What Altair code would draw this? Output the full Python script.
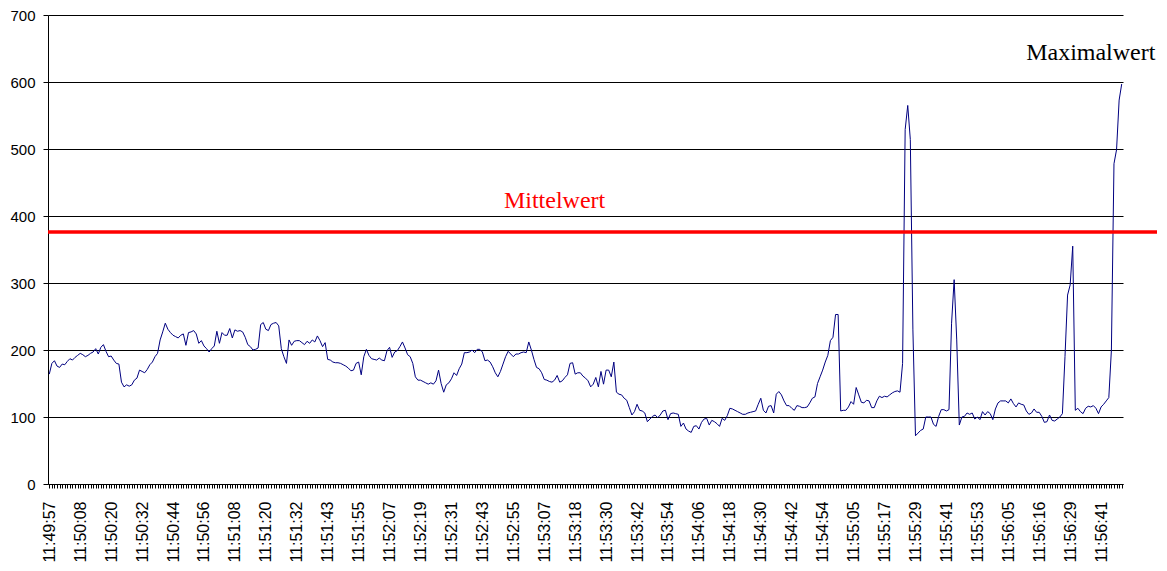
import altair as alt
import pandas as pd

# x-axis tick labels (one every 12 samples)
tick_labels = [
    "11:49:57", "11:50:08", "11:50:20", "11:50:32", "11:50:44", "11:50:56",
    "11:51:08", "11:51:20", "11:51:32", "11:51:43", "11:51:55", "11:52:07",
    "11:52:19", "11:52:31", "11:52:43", "11:52:55", "11:53:07", "11:53:18",
    "11:53:30", "11:53:42", "11:53:54", "11:54:06", "11:54:18", "11:54:30",
    "11:54:42", "11:54:54", "11:55:05", "11:55:17", "11:55:29", "11:55:41",
    "11:55:53", "11:56:05", "11:56:16", "11:56:29", "11:56:41",
]

# measured values, one per sample
values_a = [
    164, 180, 184, 176, 174, 179, 178, 183, 187, 185,
    189, 192, 195, 193, 190, 192, 195, 197, 202, 194, 204,
    208, 198, 190, 191, 185, 180, 179, 152, 145, 148,
    146, 148, 155, 158, 170, 168, 166, 171, 178, 182,
    190, 195, 215, 227, 240, 231, 226, 222, 220, 218, 222,
    224, 207, 226, 227, 229, 224, 210, 214, 206, 202,
    197, 202, 206, 228, 210, 226, 222, 222, 232, 218,
    230, 228, 229, 227, 219, 208, 205, 200, 201, 203, 238,
    241, 231, 229, 238, 240, 241, 236, 202, 190, 180,
    215, 207, 213, 214, 214, 211, 208, 213, 210, 215,
]
values_b = [
    212, 221, 214, 205, 211, 186, 185, 182, 181, 181,
    180, 178, 176, 173, 169, 170, 180, 182, 163, 190, 201,
    192, 187, 186, 185, 188, 185, 184, 199, 204, 189,
    197, 199, 205, 212, 203, 193, 190, 180, 160, 155,
    155, 153, 151, 149, 151, 149, 154, 170, 150, 137, 148,
    151, 157, 166, 162, 172, 179, 196, 196, 197, 200,
    196, 201, 201, 197, 184, 185, 182, 175, 166, 160,
    168, 179, 190, 198, 194, 190, 194, 194, 196, 197, 196,
    212, 200, 186, 174, 172, 166, 156, 155, 153, 152,
    155, 162, 152, 154, 159, 163, 180, 181, 164, 166,
]
values_c = [
    166, 161, 158, 154, 145, 149, 159, 145, 168, 149, 170,
    170, 160, 182, 137, 134, 133, 128, 125, 114, 103,
    108, 119, 110, 109, 106, 93, 97, 101, 103, 99,
    103, 109, 110, 96, 105, 106, 105, 104, 86, 91, 82,
    79, 77, 86, 87, 82, 92, 97, 98, 88, 95,
    93, 90, 86, 98, 95, 102, 113, 112, 110, 108,
    106, 104, 104, 106, 107, 108, 109, 119, 128, 110, 106,
    116, 117, 106, 134, 138, 133, 124, 117, 117, 113,
    110, 117, 116, 114, 114, 115, 121, 128, 130, 150,
    160, 170, 182, 192, 214, 219, 253, 253, 109, 110, 110,
]
values_d = [
    115, 123, 119, 144, 133, 122, 121, 125, 124, 114,
    114, 124, 131, 129, 131, 130, 133, 136, 138, 139,
    137, 180, 529, 565, 514, 230, 72, 76, 80, 82,
    100, 100, 100, 89, 86, 101, 111, 111, 109, 111, 240,
    305, 215, 88, 100, 101, 106, 104, 106, 97, 100,
    96, 108, 103, 108, 105, 96, 112, 121, 124, 124, 124,
    121, 127, 120, 115, 121, 119, 118, 109, 104, 106,
    112, 107, 107, 101, 92, 93, 103, 95, 94, 97,
    100, 105, 190, 282, 297, 355, 110, 113, 108, 105,
    113, 116, 115, 117, 113, 105, 115, 119, 124, 129, 200,
    478, 499, 573, 597,
]
values = values_a + values_b + values_c + values_d

mean_value = 376
mean_text = "Mittelwert"
max_text = "Maximalwert"
mean_text_pos = [196, 412]   # sample index, value
max_text_pos = [404, 633]

y_ticks = [0, 100, 200, 300, 400, 500, 600, 700]
label_step = 12

n = len(values)
df = pd.DataFrame({"idx": list(range(n)), "v": values})

x_scale = alt.Scale(domain=[-0.5, n - 0.5], nice=False, zero=False)
y_scale = alt.Scale(domain=[0, 700], nice=False)

arr = "[" + ",".join("'" + t + "'" for t in tick_labels) + "]"
label_expr = (
    f"(datum.value % {label_step} == 0 && datum.value / {label_step} < {len(tick_labels)}) ? "
    f"{arr}[datum.value / {label_step}] : ''"
)

x_axis = alt.Axis(
    values=list(range(n)), tickCount=n, labelExpr=label_expr, labelAngle=270,
    title=None, grid=False, tickSize=4, tickColor="black", tickWidth=1,
    domainColor="black", domainWidth=1,
    labelFont="Liberation Sans", labelFontSize=16, labelColor="black",
    labelPadding=13, labelOverlap=False, labelFlush=False, labelBound=False,
)
y_axis = alt.Axis(
    values=y_ticks, title=None, grid=True, gridColor="black", gridWidth=1,
    tickSize=5, tickColor="black", domainColor="black", domainWidth=1,
    labelFont="Liberation Sans", labelFontSize=15, labelColor="black",
    labelPadding=8,
)

line = alt.Chart(df).mark_line(color="#000080", strokeWidth=1).encode(
    x=alt.X("idx:Q", scale=x_scale, axis=x_axis),
    y=alt.Y("v:Q", scale=y_scale, axis=y_axis),
)

mean_df = pd.DataFrame({"m": [mean_value]})
mean_rule = alt.Chart(mean_df).mark_rule(color="#ff0000", strokeWidth=3.5).encode(
    y=alt.Y("m:Q", scale=y_scale),
    x=alt.value(0),
    x2=alt.value(1109),
)

txt_df = pd.DataFrame({
    "idx": [mean_text_pos[0], max_text_pos[0]],
    "v": [mean_text_pos[1], max_text_pos[1]],
    "label": [mean_text, max_text],
    "col": ["#ff0000", "#000000"],
})
texts = alt.Chart(txt_df).mark_text(
    font="Liberation Serif", fontSize=24, align="center", baseline="alphabetic"
).encode(
    x=alt.X("idx:Q", scale=x_scale),
    y=alt.Y("v:Q", scale=y_scale),
    text="label:N",
    color=alt.Color("col:N", scale=None),
)

chart = (line + mean_rule + texts).properties(
    width=1075, height=469,
    autosize="none",
    padding={"left": 40, "top": 7, "right": 36, "bottom": 84},
    background="white",
).configure_view(strokeWidth=0)

chart.save("out.html", embed_options={"renderer": "svg", "actions": False})
